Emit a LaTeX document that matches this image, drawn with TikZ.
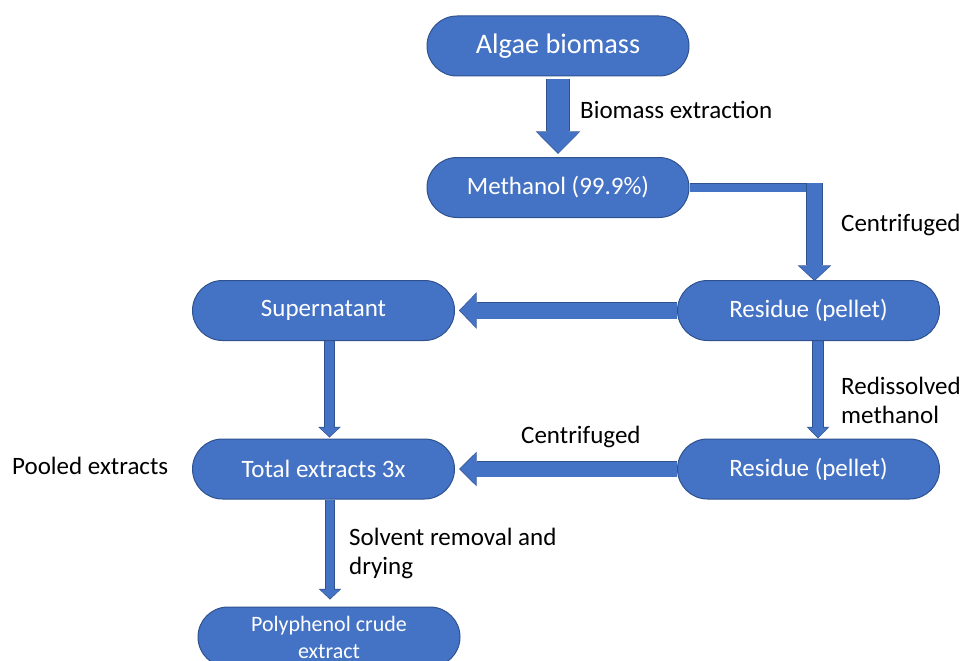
\documentclass[tikz,border=0pt]{standalone}
\usepackage{fontspec}
\setmainfont{Carlito}
\usetikzlibrary{arrows.meta,backgrounds,calc}

\definecolor{flowblue}{HTML}{4472C4}
\definecolor{flowedge}{HTML}{2F528F}

\tikzset{
  procbox/.style={rectangle, rounded corners=30pt, fill=flowblue,
    draw=flowedge, line width=1pt, text=white, minimum width=262pt,
    minimum height=60pt, align=center,
    font=\fontsize{25}{29}\selectfont},
  steplabel/.style={anchor=west, inner sep=0pt, align=left,
    font=\fontsize{25}{29}\selectfont},
  blockarrow/.code n args={3}{%
    \pgfmathsetlengthmacro\arrshaftout{#1+1.4pt}%
    \pgfmathsetlengthmacro\arrheadout{#2+2.6pt}%
    \pgfmathsetlengthmacro\arrlenout{#3+1.6pt}%
    \tikzset{draw=flowblue, line width=#1,
      -{Triangle[width=#2,length=#3,line width=0pt]},
      preaction={draw=flowedge, line width=\arrshaftout,
        -{Triangle[width=\arrheadout,length=\arrlenout,line width=0pt]},
        shorten >=-1pt}}%
  },
  elbowbar/.style={draw=flowblue, line width=8pt,
    preaction={draw=flowedge, line width=9.4pt}}
}

\begin{document}
\begin{tikzpicture}[x=1pt,y=-1pt]

  \useasboundingbox (0,0) rectangle (964,661);

  % Process steps
  \node[procbox, font=\fontsize{28.3}{33}\selectfont] (alg) at (558,46) {Algae biomass};
  \node[procbox] (meth) at (558,187.5) {Methanol (99.9\%)};
  \node[procbox] (res1) at (808.5,310.5) {Residue (pellet)};
  \node[procbox] (sup) at (323.5,310.5) {Supernatant};
  \node[procbox] (res2) at (808.5,469) {Residue (pellet)};
  \node[procbox] (tot) at (323.5,469) {Total extracts 3x};
  \node[procbox, font=\fontsize{22}{27}\selectfont] (poly) at (329,637)
    {Polyphenol crude\\extract};

  % Step labels
  \node[steplabel] (lbext) at (580,110) {Biomass extraction};
  \node[steplabel] (lbcenA) at (841,225) {Centrifuged};
  \node[steplabel] (lbredis) at (841,400.5) {Redissolved\\methanol};
  \node[steplabel] (lbcenB) at (521,437) {Centrifuged};
  \node[steplabel] (lbpool) at (12,466) {Pooled extracts};
  \node[steplabel] (lbsolv) at (349,553.5) {Solvent removal and\\drying};

  % Block arrows behind the boxes
  \begin{scope}[on background layer]
    \coordinate (elbow) at (814.5,183);

    \draw[blockarrow={22pt}{42pt}{21pt}]
      ([yshift=-3pt]alg.south) -- ([yshift=4pt]meth.north);

    \draw[elbowbar] (meth.east) -- ($(meth.east -| elbow)+(7.5pt,0)$);
    \draw[blockarrow={15pt}{31pt}{14pt}] (elbow) -- (elbow |- res1.north);

    \draw[blockarrow={16pt}{34pt}{16pt}]
      (res1.west) -- ([xshift=5pt]sup.east);
    \draw[blockarrow={9pt}{20pt}{9pt}]
      ([xshift=6pt]sup.south) -- ([xshift=6pt,yshift=2pt]tot.north);

    \draw[blockarrow={10pt}{20pt}{10pt}]
      ([xshift=9.5pt]res1.south) -- ([xshift=9.5pt,yshift=1pt]res2.north);
    \draw[blockarrow={15pt}{32pt}{16pt}]
      (res2.west) -- ([xshift=5pt]tot.east);

    \draw[blockarrow={8pt}{20pt}{9pt}]
      ([xshift=6.5pt]tot.south) -- ([xshift=1pt,yshift=8pt]poly.north);
  \end{scope}

\end{tikzpicture}
\end{document}
